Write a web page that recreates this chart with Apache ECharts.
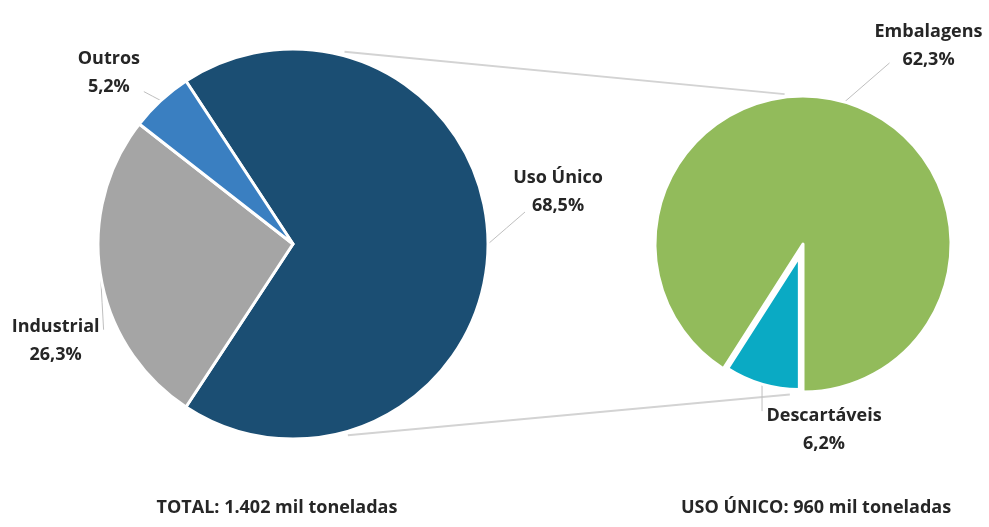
<!DOCTYPE html>
<html>
<head>
<meta charset="utf-8">
<script src="https://cdn.jsdelivr.net/npm/echarts@6/dist/echarts.min.js"></script>
<style>html,body{margin:0;padding:0;background:#fff}#c{width:989px;height:527px}</style>
</head>
<body>
<div id="c"></div>
<script>
// ---- data ----
const categoriesTotal = ['Uso Único', 'Industrial', 'Outros'];
const valuesTotal = [68.5, 26.3, 5.2];
const categoriesUso = ['Descartáveis', 'Embalagens'];
const valuesUso = [6.2, 62.3];
const titleTexts = ['TOTAL: 1.402 mil toneladas', 'USO ÚNICO: 960 mil toneladas'];

// ---- layout / style ----
const FONT = '"Open Sans", "Liberation Sans", sans-serif';
const TEXT = '#262626';
const colorsTotal = {'Uso Único': '#1B4E73', 'Industrial': '#A5A5A5', 'Outros': '#3A7FC1'};
const colorsUso = {'Embalagens': '#92BB5B', 'Descartáveis': '#0AAAC4'};
const L = {cx: 293, cy: 244, r: 195};
const R = {cx: 803, cy: 244, r: 148};
const explodeR = 13, rSmall = 133;
// label geometry: line vector from slice edge, then label centre from line end
const labelCfg = {
  'Uso Único':   {line: [37, -32], lab: [33, -20]},
  'Industrial':  {line: [3, 54],   lab: [-48, 11]},
  'Outros':      {line: [-17, -9], lab: [-35, -19]},
  'Embalagens':  {line: [45, -39], lab: [39, -17]},
  'Descartáveis':{line: [0, 27],   lab: [62, 19]}
};

function sum(a){return a.reduce((s,v)=>s+v,0);}
function midAngles(vals, start){
  const t = sum(vals); let a = start; const out = [];
  vals.forEach(v => { const span = v / t * 360; out.push(a - span/2); a -= span; });
  return out;
}
function pt(c, r, deg){ const rad = deg*Math.PI/180; return [c[0] + r*Math.cos(rad), c[1] - r*Math.sin(rad)]; }

const startL = valuesTotal[0] / sum(valuesTotal) * 180;
const startR = 270;
const midL = midAngles(valuesTotal, startL);
const midR = midAngles(valuesUso, startR);
const iDesc = categoriesUso.indexOf('Descartáveis');
const centerSmall = pt([R.cx, R.cy], explodeR, midR[iDesc]);

const fmt = v => v.toFixed(1).replace('.', ',') + '%';

function makeLayout(names, mids, center, radius){
  return function(params){
    const name = names[params.dataIndex];
    const cfg = labelCfg[name];
    if (!cfg) return {};
    const p0 = pt(center, radius, mids[params.dataIndex]);
    const end = [p0[0] + cfg.line[0], p0[1] + cfg.line[1]];
    const mid = [(p0[0]+end[0])/2, (p0[1]+end[1])/2];
    return {
      x: end[0] + cfg.lab[0], y: end[1] + cfg.lab[1],
      align: 'center', verticalAlign: 'middle',
      labelLinePoints: [p0, mid, end]
    };
  };
}

const labelBase = {
  show: true, position: 'outside', overflow: 'none', edgeDistance: 0, bleedMargin: 0,
  formatter: p => '{a|' + p.name + '}\n{a|' + fmt(p.value) + '}',
  rich: {a: {fontFamily: FONT, fontWeight: 700, fontSize: 18, lineHeight: 28, color: TEXT, align: 'center'}}
};
const lineBase = {show: true, length: 10, length2: 10, lineStyle: {color: '#BFBFBF', width: 1}};

const leftData = categoriesTotal.map((n, i) => ({name: n, value: valuesTotal[i], itemStyle: {color: colorsTotal[n]}}));
const rightDataA = categoriesUso.map((n, i) => n === 'Descartáveis'
  ? {name: n, value: valuesUso[i], itemStyle: {color: 'rgba(0,0,0,0)', borderWidth: 0}, label: {show: false}, labelLine: {show: false}}
  : {name: n, value: valuesUso[i], itemStyle: {color: colorsUso[n]}});
const rightDataB = categoriesUso.map((n, i) => n === 'Descartáveis'
  ? {name: n, value: valuesUso[i], itemStyle: {color: colorsUso[n]}}
  : {name: n, value: valuesUso[i], itemStyle: {color: 'rgba(0,0,0,0)', borderWidth: 0}, label: {show: false}, labelLine: {show: false}});

// connector lines between the two pies
const conn = [[75, 97], [-74, -95]].map(([a, b]) => {
  const p = pt([L.cx, L.cy], L.r + 4, a);
  const q = pt([R.cx, R.cy], R.r + 3, b);
  return {type: 'line', z: 0, shape: {x1: p[0], y1: p[1], x2: q[0], y2: q[1]}, style: {stroke: '#D3D3D3', lineWidth: 2}};
});

const chart = echarts.init(document.getElementById('c'), null, {renderer: 'canvas'});
chart.setOption({
  backgroundColor: '#fff',
  animation: false,
  title: [
    {text: titleTexts[0], left: 272, top: 494, textAlign: 'center',
     textStyle: {fontFamily: FONT, fontWeight: 700, fontSize: 18, color: TEXT}},
    {text: titleTexts[1], left: 811, top: 494, textAlign: 'center',
     textStyle: {fontFamily: FONT, fontWeight: 700, fontSize: 18, color: TEXT}}
  ],
  graphic: conn,
  series: [
    {
      type: 'pie', center: [L.cx, L.cy], radius: L.r, startAngle: startL, clockwise: true,
      data: leftData, silent: true,
      itemStyle: {borderColor: '#fff', borderWidth: 3},
      label: labelBase, labelLine: lineBase,
      labelLayout: makeLayout(categoriesTotal, midL, [L.cx, L.cy], L.r)
    },
    {
      type: 'pie', center: [R.cx, R.cy], radius: R.r, startAngle: startR, clockwise: true,
      data: rightDataA, silent: true,
      itemStyle: {borderColor: '#fff', borderWidth: 3},
      label: labelBase, labelLine: lineBase,
      labelLayout: makeLayout(categoriesUso, midR, [R.cx, R.cy], R.r)
    },
    {
      type: 'pie', center: centerSmall, radius: rSmall, startAngle: startR, clockwise: true,
      data: rightDataB, silent: true,
      itemStyle: {borderColor: '#fff', borderWidth: 3},
      label: labelBase, labelLine: lineBase,
      labelLayout: makeLayout(categoriesUso, midR, centerSmall, rSmall)
    }
  ]
});
</script>
</body>
</html>
